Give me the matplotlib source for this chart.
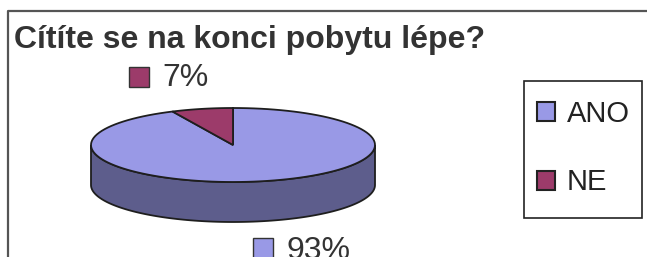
import numpy as np
import matplotlib
matplotlib.use('Agg')
import matplotlib.pyplot as plt
from matplotlib.patches import Polygon, Rectangle, Patch

# ---- data ----
title = "Cítíte se na konci pobytu lépe?"
categories = ["ANO", "NE"]
values = [93, 7]
value_labels = ["93%", "7%"]
top_colors = ["#9999e6", "#9c3b6a"]
side_colors = ["#5d5d8c", "#5e2340"]

plt.rcParams['font.family'] = ['Liberation Sans', 'DejaVu Sans']

W, H = 647, 257
fig = plt.figure(figsize=(W / 100, H / 100), dpi=100)
ax = fig.add_axes([0, 0, 1, 1])
ax.set_xlim(0, W)
ax.set_ylim(H, 0)
ax.axis('off')

# outer chart frame (top and left visible)
ax.plot([8, 8, W + 30], [H + 5, 11, 11], color="#555555", lw=1.6,
        solid_capstyle='butt', clip_on=True)

# ---- 3D pie geometry ----
cx, cy, rx, ry, depth = 233, 145, 142, 37, 40
edge = "#1e1e1e"


def arc(t0, t1, dy=0, n=120):
    t = np.radians(np.linspace(t0, t1, n))
    return np.column_stack([cx + rx * np.cos(t), cy - ry * np.sin(t) + dy])


total = float(sum(values))
spans = []
a = 90.0
for v in values:
    sweep = 360.0 * v / total
    spans.append((a - sweep, a))  # clockwise from top
    a -= sweep

# side walls (front half: angles in [-180, 0] modulo 360)
for (a0, a1), sc in zip(spans, side_colors):
    for k in range(-2, 3):
        f0, f1 = -180 + 360 * k, 0 + 360 * k
        s0, s1 = max(a0, f0), min(a1, f1)
        if s1 > s0:
            topa = arc(s0, s1)
            bota = arc(s1, s0, dy=depth)
            ax.add_patch(Polygon(np.vstack([topa, bota]), closed=True,
                                 facecolor=sc, edgecolor=edge, lw=1.3, zorder=2))

# top faces
for (a0, a1), tc in zip(spans, top_colors):
    pts = np.vstack([[cx, cy], arc(a0, a1)])
    ax.add_patch(Polygon(pts, closed=True, facecolor=tc, edgecolor=edge,
                         lw=1.3, zorder=3))

# ---- title ----
ax.text(14, 48, title, fontsize=23, fontweight='bold', color="#333333",
        ha='left', va='baseline')

# ---- data labels with colour keys ----
label_pos = {"NE": (129, 67, 86), "ANO": (253, 238, 259)}
for cat, lab, tc in zip(categories, value_labels, top_colors):
    x0, ytop, base = label_pos[cat]
    ax.add_patch(Rectangle((x0, ytop), 20, 20, facecolor=tc,
                           edgecolor="#333333", lw=1.0, zorder=4))
    ax.text(x0 + 33, base, lab, fontsize=23, color="#333333",
            ha='left', va='baseline', zorder=4)

# ---- legend ----
ax.add_patch(Rectangle((524, 81), 118, 137, facecolor='white',
                       edgecolor="#222222", lw=1.2, zorder=4))
handles = [Patch(facecolor=c, edgecolor="#222222", lw=1.5) for c in top_colors]
leg = ax.legend(handles, categories, loc='upper left',
                bbox_to_anchor=(524 / W, 1 - 87 / H), bbox_transform=fig.transFigure,
                fontsize=21, frameon=False,
                borderpad=0.45, handlelength=0.62, handleheight=0.62,
                handletextpad=0.4, labelspacing=1.38, borderaxespad=0)
leg.set_zorder(5)
for t in leg.get_texts():
    t.set_color("#222222")

fig.savefig("out.png", dpi=100, facecolor='white')
